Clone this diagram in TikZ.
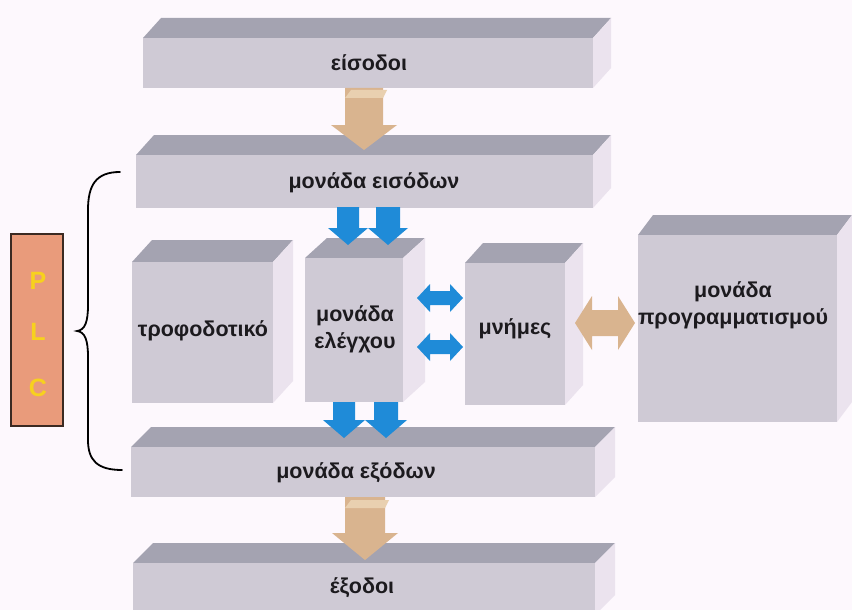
\documentclass[tikz,border=0pt]{standalone}
\usepackage{fontspec}
\setmainfont{Liberation Sans}
\definecolor{bg}{HTML}{FDF8FD}
\definecolor{topc}{HTML}{A4A3B1}
\definecolor{frontc}{HTML}{CFCAD5}
\definecolor{sidec}{HTML}{EBE3EE}
\definecolor{blu}{HTML}{1F8BD8}
\definecolor{tanc}{HTML}{D9B48F}
\definecolor{tanlight}{HTML}{E9D0B0}
\definecolor{plcfill}{HTML}{E99B7B}
\definecolor{plcline}{HTML}{3B2A22}
\definecolor{plctext}{HTML}{F7D11E}
\definecolor{txt}{HTML}{1C1A1E}
% name, x1, y1, x2, y2, dx, dy
\newcommand\slabbox[7]{%
  \fill[topc] (#2,#3) -- (#2+#6,#3-#7) -- (#4+#6,#3-#7) -- (#4,#3) -- cycle;
  \fill[sidec] (#4,#3) -- (#4+#6,#3-#7) -- (#4+#6,#5-#7) -- (#4,#5) -- cycle;
  \node[frontface, anchor=north west, minimum width={#4-#2}, minimum height={#5-#3}] (#1) at (#2,#3) {};
}
% cx, ytop, yhead, ytip, halfshaft, halfhead, colour
\newcommand\vdownarrow[7]{%
  \fill[#7] (#1-#5,#2) -- (#1+#5,#2) -- (#1+#5,#3) -- (#1+#6,#3) -- (#1,#4) -- (#1-#6,#3) -- (#1-#5,#3) -- cycle;
}
% x1, x2, yc, halfhead, halfshaft, headlen, colour
\newcommand\hdblarrow[7]{%
  \fill[#7] (#1,#3) -- (#1+#6,#3-#4) -- (#1+#6,#3-#5) -- (#2-#6,#3-#5) -- (#2-#6,#3-#4) -- (#2,#3)
    -- (#2-#6,#3+#4) -- (#2-#6,#3+#5) -- (#1+#6,#3+#5) -- (#1+#6,#3+#4) -- cycle;
}
\begin{document}
\begin{tikzpicture}[x=1pt,y=-1pt,
  frontface/.style={fill=frontc, draw=none, inner sep=0, outer sep=0, rectangle},
  lbl/.style={font=\bfseries\fontsize{21.5}{27}\selectfont, text=txt, align=center, inner sep=0},
  plcletter/.style={font=\bfseries\fontsize{25}{28}\selectfont, text=plctext, inner sep=0}]
\useasboundingbox (0,0) rectangle (852,610);
\clip (0,0) rectangle (852,610);
\fill[bg] (0,0) rectangle (852,610);

% boxes
\slabbox{inputs}{143}{38}{593}{88}{18}{20}
\slabbox{inunit}{136}{155}{593}{208}{18}{20}
\slabbox{power}{132}{262}{273}{403}{20}{22}
\slabbox{cpu}{305}{258}{403}{402}{22}{20}
\slabbox{mem}{465}{263}{565}{405}{18}{20}
\slabbox{prog}{638}{235}{837}{422}{15}{20}
\slabbox{outunit}{131}{447}{595}{497}{20}{20}
\slabbox{outputs}{133}{563}{595}{615}{20}{20}

% labels
\node[lbl] (tin) at (369,63) {είσοδοι};
\node[lbl] (tinu) at (374,183) {μονάδα εισόδων};
\node[lbl] (tpow) at (203,331) {τροφοδοτικό};
\node[lbl] (tcpu) at (355,329) {μονάδα\\ελέγχου};
\node[lbl] (tmem) at (515,329) {μνήμες};
\node[lbl] (tprog) at (733,305) {μονάδα\\προγραμματισμού};
\node[lbl] (toutu) at (356,473) {μονάδα εξόδων};
\node[lbl] (tout) at (362,588) {έξοδοι};

% tan arrows
\vdownarrow{364}{88}{125}{150}{19}{33}{tanc}
\fill[tanlight] (345,98) -- (351,90) -- (387,90) -- (383,98) -- cycle;
\vdownarrow{365}{497}{533}{560}{20}{33}{tanc}
\fill[tanlight] (345,508) -- (351,500) -- (389,500) -- (385,508) -- cycle;
\hdblarrow{575}{635}{323}{27}{13}{17}{tanc}

% blue arrows
\vdownarrow{348}{207}{228}{245}{11}{20}{blu}
\vdownarrow{388}{207}{228}{245}{12}{20}{blu}
\vdownarrow{344}{402}{420}{438}{11}{21}{blu}
\vdownarrow{386}{402}{420}{438}{12}{21}{blu}
\hdblarrow{417}{463}{298}{14}{7}{13}{blu}
\hdblarrow{417}{463}{347}{14}{7}{13}{blu}

% PLC
\node[draw=plcline, line width=2, fill=plcfill, minimum width=52, minimum height=192, inner sep=0, anchor=north west] (plc) at (10,233) {};
\node[plcletter] (pp) at (38,281) {P};
\node[plcletter] (pl) at (38,332) {L};
\node[plcletter] (pc) at (38,388) {C};

% brace
\coordinate (btop) at (120,172);
\coordinate (bbot) at (122,470);
\draw[line width=1.8, line cap=round] (btop) .. controls (96,172) and (88,185) .. (88,210) -- (88,305)
  .. controls (88,322) and (85,330) .. (77,331) .. controls (85,332) and (88,340) .. (88,357) -- (88,440)
  .. controls (88,460) and (97,470) .. (bbot);
\end{tikzpicture}
\end{document}
